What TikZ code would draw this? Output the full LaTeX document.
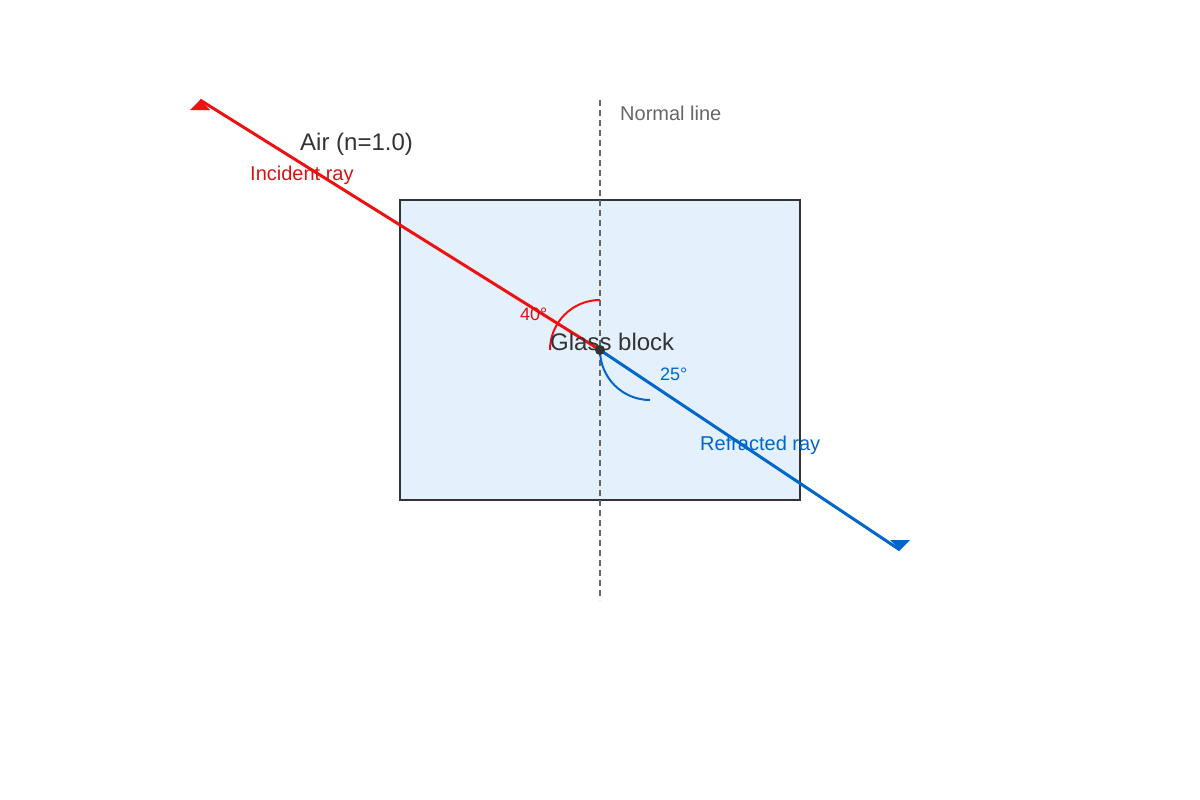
\documentclass[tikz,border=0pt]{standalone}
\usepackage{fontspec}
\setmainfont{Liberation Sans}
\begin{document}
\begin{tikzpicture}[x=1pt,y=-1pt,
  lbl/.style={inner sep=0pt,anchor=base west},
  big/.style={lbl,font=\fontsize{24}{28}\selectfont,text=black!80},
  mid/.style={lbl,font=\fontsize{20}{24}\selectfont},
  small/.style={lbl,font=\fontsize{18}{22}\selectfont},
  ray/.style={line width=3pt},
]
\definecolor{rayred}{HTML}{EE1111}
\definecolor{txtred}{HTML}{DD1111}
\definecolor{rayblue}{HTML}{0066CC}
\definecolor{glass}{HTML}{E4F1FC}
\definecolor{edge}{HTML}{333333}
\useasboundingbox (0,0) rectangle (1200,800);
% glass block
\draw[fill=glass,draw=edge,line width=2pt] (400,200) rectangle (800,500);
% normal
\coordinate (ntop) at (600,100);
\coordinate (nbot) at (600,600);
\draw[draw=black!60,line width=2pt,dash pattern=on 6pt off 4pt] (ntop) -- (nbot);
% points
\coordinate (src) at (200,100);
\coordinate (hit) at (600,350);
\coordinate (dst) at (900,550);
% rays
\draw[ray,rayred] (src) -- (hit);
\draw[ray,rayblue] (hit) -- (dst);
% arrow markers
\fill[rayred] (src) -- (210,110) -- (190,110) -- cycle;
\fill[rayblue] (dst) -- (910,540) -- (890,540) -- cycle;
% angle arcs
\draw[rayred,line width=2pt] (600,300) arc[start angle=-90,end angle=-180,radius=50];
\draw[rayblue,line width=2pt] (hit) arc[start angle=180,end angle=90,radius=50];
% dot
\fill[edge] (hit) circle[radius=5];
% labels
\node[big] (air) at (300,150) {Air (n=1.0)};
\node[mid,text=txtred] (inc) at (250,180) {Incident ray};
\node[mid,text=black!60] (nl) at (620,120) {Normal line};
\node[small,text=txtred] (a40) at (520,320) {40°};
\node[big] (gb) at (550,350) {Glass block};
\node[small,text=rayblue] (a25) at (660,380) {25°};
\node[mid,text=rayblue] (ref) at (700,450) {Refracted ray};
\end{tikzpicture}
\end{document}
